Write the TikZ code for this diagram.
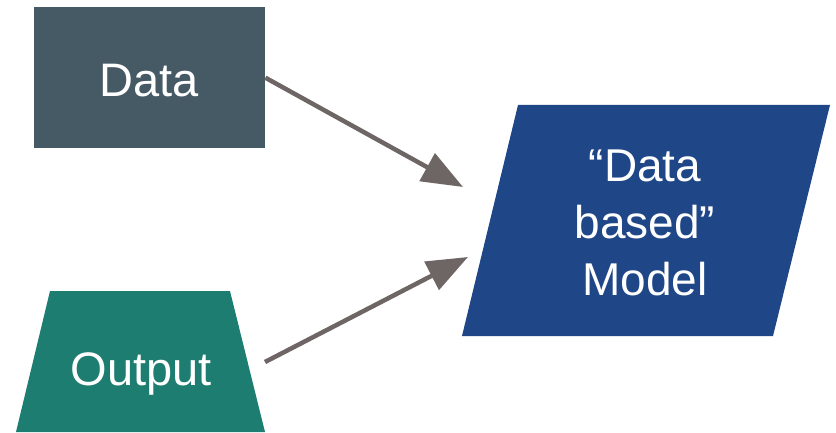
\documentclass[tikz,border=0pt]{standalone}
\usepackage{fontspec}
\setmainfont{Liberation Sans}
\usetikzlibrary{arrows.meta}
\definecolor{datacol}{HTML}{465A65}
\definecolor{outcol}{HTML}{1E7D71}
\definecolor{modcol}{HTML}{1F4788}
\definecolor{arrcol}{HTML}{6D6664}
\tikzset{
  lbl/.style={text=white, anchor=base, inner sep=0pt, align=center, font=\fontsize{47}{57}\selectfont},
  conn/.style={draw=arrcol, line width=4.5pt, -{Triangle[length=41pt,width=31pt]}}
}
\begin{document}
\begin{tikzpicture}[x=1pt,y=-1pt]
\useasboundingbox (0,0) rectangle (836,433);
% Data box
\node[fill=datacol, minimum width=231pt, minimum height=141pt, inner sep=0pt, anchor=north west] (data) at (34,7) {};
\node[lbl] (datatxt) at (149,97) {Data};
% Output trapezoid
\fill[outcol] (50,291) -- (230,291) -- (265,432) -- (16,432) -- cycle;
\node[lbl] (outtxt) at (141,385) {Output};
% Model parallelogram
\fill[modcol] (518,105) -- (830,105) -- (773,336) -- (462,336) -- cycle;
\node[lbl, font=\fontsize{46}{57}\selectfont] (model) at (645,295) {“Data\\based”\\Model};
% connectors
\coordinate (s2) at (265,362);
\coordinate (t1) at (463,187);
\coordinate (t2) at (468,257);
\draw[conn] (data.east) -- (t1);
\draw[conn] (s2) -- (t2);
\end{tikzpicture}
\end{document}
